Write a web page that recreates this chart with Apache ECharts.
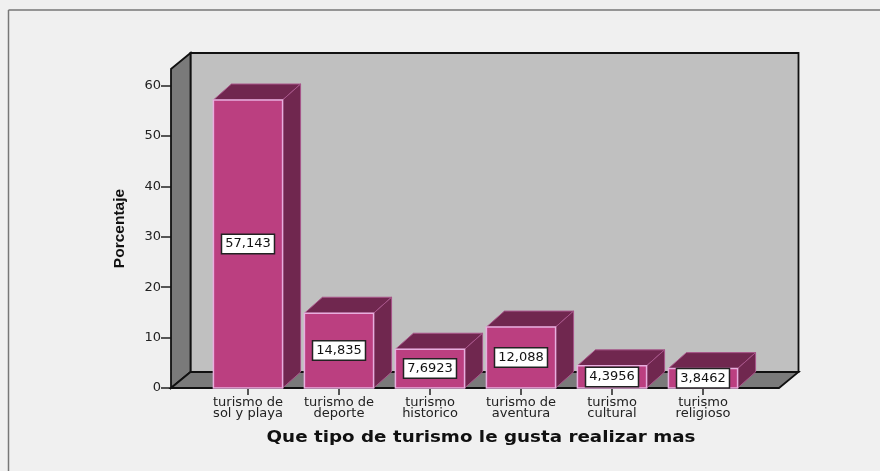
<!DOCTYPE html>
<html><head><meta charset="utf-8">
<style>html,body{margin:0;padding:0;background:#f0f0f0}#c{width:880px;height:471px}</style>
<script src="https://cdn.jsdelivr.net/npm/echarts@6/dist/echarts.min.js"></script>
</head><body><div id="c"></div>
<script>
const categories = ['turismo de\nsol y playa','turismo de\ndeporte','turismo\nhistorico','turismo de\naventura','turismo\ncultural','turismo\nreligioso'];
const values = [57.143,14.835,7.6923,12.088,4.3956,3.8462];
const valueLabels = ['57,143','14,835','7,6923','12,088','4,3956','3,8462'];
const yTicks = [0,10,20,30,40,50,60];
const xTitle = 'Que tipo de turismo le gusta realizar mas';
const yTitle = 'Porcentaje';

const DX = 19.5, DY = 16, BAR_DX = 18;
const chart = echarts.init(document.getElementById('c'), null, {renderer:'canvas'});

function poly(points, fill, stroke, w){
  return {type:'polygon', shape:{points}, style:{fill, stroke, lineWidth:w}};
}
function renderWalls(params){
  const c = params.coordSys;
  const L = c.x - 31.5, R = c.x + c.width + 30.5, T = c.y, B = c.y + c.height;
  return {type:'group', children:[
    poly([[L+DX,T-DY],[R+DX,T-DY],[R+DX,B-DY],[L+DX,B-DY]], '#c0c0c0', '#111', 1.8),
    poly([[L,T],[L+DX,T-DY],[L+DX,B-DY],[L,B]], '#7a7a7a', '#111', 1.8),
    poly([[L,B],[L+DX,B-DY],[R+DX,B-DY],[R,B]], '#7a7a7a', '#111', 1.8)
  ]};
}
function renderBar(params, api){
  const i = api.value(0), v = api.value(1);
  const top = api.coord([i, v]), base = api.coord([i, 0]);
  const w = api.size([1,0])[0] * 0.76;
  const x0 = top[0] - w/2, x1 = top[0] + w/2, y0 = top[1], y1 = base[1];
  const edge = '#a8558a';
  return {type:'group', children:[
    poly([[x0,y0],[x0+BAR_DX,y0-DY],[x1+BAR_DX,y0-DY],[x1,y0]], '#70274f', edge, 1),
    poly([[x1,y0],[x1+BAR_DX,y0-DY],[x1+BAR_DX,y1-DY],[x1,y1]], '#70274f', edge, 1),
    {type:'rect', shape:{x:x0,y:y0,width:w,height:y1-y0}, style:{fill:'#bb3f80', stroke:'#e8aede', lineWidth:1.5}},
    {type:'text', x:top[0], y:(y0+y1)/2, z2:10, style:{
      text:valueLabels[i], fill:'#111', font:'13px "DejaVu Sans"', align:'center', verticalAlign:'middle',
      backgroundColor:'#fff', borderColor:'#222', borderWidth:1.5, padding:[3,3,2,3]
    }}
  ]};
}

chart.setOption({
  animation:false,
  backgroundColor:'#f0f0f0',
  graphic:[
    {type:'line', shape:{x1:8.5,y1:10,x2:880,y2:10}, style:{stroke:'#777',lineWidth:1.5}},
    {type:'line', shape:{x1:8.5,y1:10,x2:8.5,y2:471}, style:{stroke:'#777',lineWidth:1.5}},
    {type:'text', x:481, y:438.5, scaleX:1.22, originX:0, originY:0, style:{
      text:xTitle, fill:'#111', font:'bold 15px "DejaVu Sans"', align:'center', verticalAlign:'middle'
    }}
  ],
  grid:{left:202.5, top:69, width:546, height:319, containLabel:false},
  xAxis:{
    type:'category', data:categories,
    axisLine:{show:false},
    axisTick:{show:true, alignWithLabel:true, length:7, lineStyle:{color:'#222',width:1.5}},
    axisLabel:{color:'#222', fontFamily:'DejaVu Sans', fontSize:13, lineHeight:11, margin:9, interval:0},
    splitLine:{show:false}
  },
  yAxis:{
    type:'value', min:0, max:63.3, offset:31.5,
    axisLine:{show:false},
    axisTick:{show:true, length:10, customValues:yTicks, lineStyle:{color:'#222',width:1.5}},
    axisLabel:{color:'#222', fontFamily:'DejaVu Sans', fontSize:13, margin:10, padding:[3,0,0,0], customValues:yTicks},
    splitLine:{show:false},
    name:yTitle, nameLocation:'middle', nameGap:43, nameRotate:90,
    nameTextStyle:{color:'#111', fontFamily:'Liberation Sans', fontWeight:'bold', fontSize:15.5}
  },
  series:[
    {type:'custom', renderItem:renderWalls, data:[[0,0]], silent:true, clip:false, z:1, encode:{x:0,y:1}},
    {type:'custom', renderItem:renderBar, data:values.map((v,i)=>[i,v]), clip:false, z:2, encode:{x:0,y:1}}
  ]
});
</script></body></html>
